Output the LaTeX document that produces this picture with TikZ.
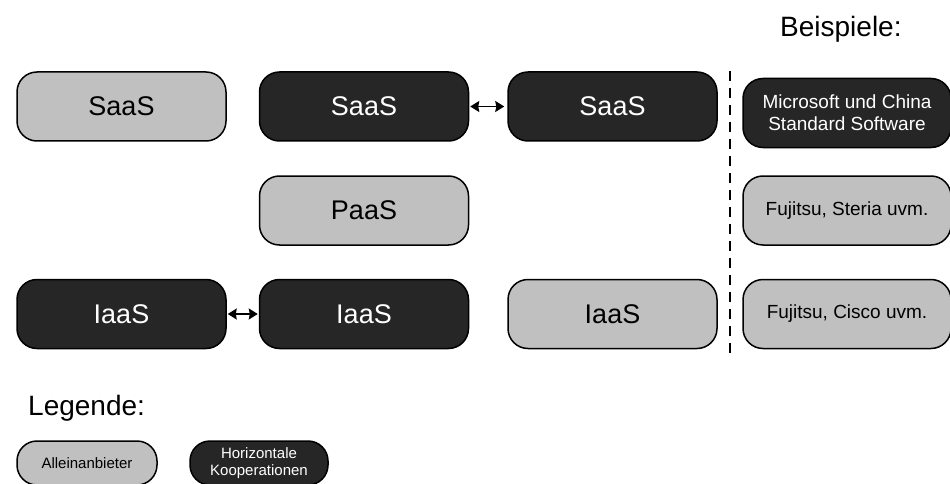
\documentclass[tikz,border=0pt]{standalone}
\usepackage{fontspec}
\setmainfont{Liberation Sans}
\usetikzlibrary{arrows.meta}
\definecolor{lightbox}{HTML}{C0C0C0}
\definecolor{darkbox}{HTML}{262626}
\begin{document}
\begin{tikzpicture}[x=1pt,y=-1pt,
  box/.style={rounded corners=20pt, draw=black, line width=1.5pt, minimum width=209pt, minimum height=69pt, inner sep=0pt, font=\fontsize{27}{32}\selectfont},
  exbox/.style={box, minimum width=208pt, font=\fontsize{19}{22}\selectfont, align=center},
  legbox/.style={rounded corners=20pt, draw=black, line width=1.5pt, minimum height=44pt, inner sep=0pt, font=\fontsize{15}{17}\selectfont, align=center},
  lightfill/.style={fill=lightbox, text=black},
  darkfill/.style={fill=darkbox, text=white},
  conn/.style={{Stealth[length=9pt,width=11pt,inset=1pt]}-{Stealth[length=9pt,width=11pt,inset=1pt]}, line width=1.5pt},
  heading/.style={font=\fontsize{28}{32}\selectfont, inner sep=0pt}
]
\useasboundingbox (0,0) rectangle (950,484);
\node[heading, anchor=base west] (beisp) at (780,37) {Beispiele:};
% row 1
\node[box, lightfill] (s1) at (121.5,106.5) {SaaS};
\node[box, darkfill] (s2) at (364,106.5) {SaaS};
\node[box, darkfill] (s3) at (612.5,106.5) {SaaS};
\node[exbox, darkfill] (e1) at (847,113) {Microsoft und China\\Standard Software};
% row 2
\node[box, lightfill] (p2) at (364,210.5) {PaaS};
\node[exbox, lightfill] (e2) at (847,210.5) {Fujitsu, Steria uvm.};
% row 3
\node[box, darkfill] (i1) at (121.5,314) {IaaS};
\node[box, darkfill] (i2) at (364,314) {IaaS};
\node[box, lightfill] (i3) at (612.5,314) {IaaS};
\node[exbox, lightfill] (e3) at (847,314) {Fujitsu, Cisco uvm.};
% connectors
\draw[conn, shorten <=1pt, shorten >=3pt] (s2) -- (s3);
\draw[conn, shorten <=1pt, shorten >=1pt] (i1) -- (i2);
% dashed separator
\coordinate (dtop) at (730,71);
\coordinate (dbot) at (730,358);
\draw[line width=2pt, dash pattern=on 10pt off 7pt] (dtop) -- (dbot);
% legend
\node[heading, anchor=base west] (leg) at (28,415) {Legende:};
\node[legbox, lightfill, minimum width=140pt] (l1) at (87,463) {Alleinanbieter};
\node[legbox, darkfill, minimum width=138pt] (l2) at (259,463) {Horizontale\\Kooperationen};
\end{tikzpicture}
\end{document}
